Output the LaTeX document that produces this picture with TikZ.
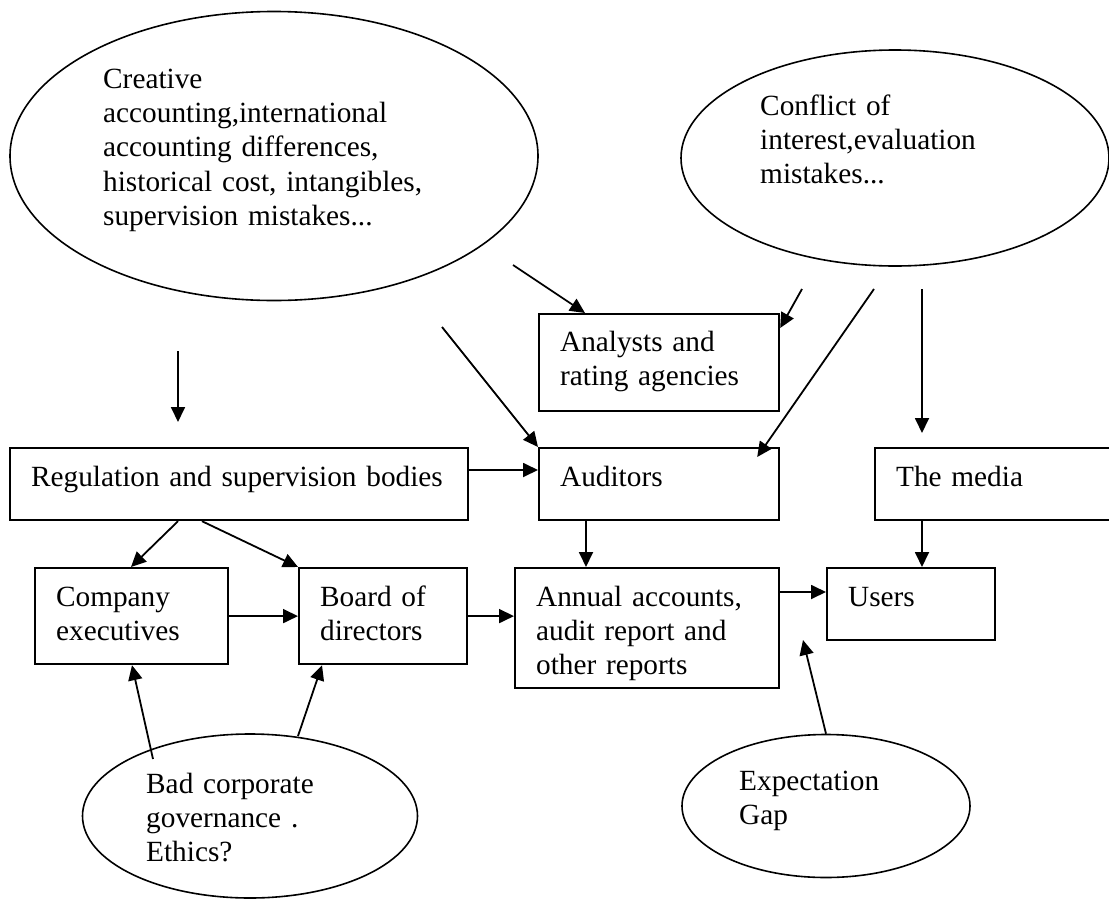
\documentclass[tikz,border=0pt]{standalone}
\usepackage{fontspec}
\setmainfont{Liberation Serif}
\usetikzlibrary{arrows.meta,shapes.geometric}
\tikzset{
  blk/.style={draw, rectangle, line width=2.2pt, align=left, inner xsep=21pt, inner ysep=0pt, text height=38pt, anchor=north west},
  oval/.style={draw, ellipse, line width=1.6pt, inner sep=0pt},
  lbl/.style={align=left, inner sep=0pt, text height=20pt, anchor=north west},
  arr/.style={-{Triangle[length=15pt,width=14pt]}, line width=1.8pt}
}
\begin{document}
\begin{tikzpicture}[x=1pt,y=-1pt,font=\fontsize{29.3}{34.3}\selectfont]
            \useasboundingbox (0,0) rectangle (1109,900);
            \node[oval, minimum width=528pt, minimum height=289pt] (cre) at (274,156){};
            \node[oval, minimum width=428pt, minimum height=216pt] (con) at (895,158){};
            \node[oval, minimum width=335pt, minimum height=164pt] (gov) at (250,816){};
            \node[oval, minimum width=288pt, minimum height=143pt] (gap) at (826,806){};
            \node[lbl, text width=340pt] (creT) at (103,68){Creative\\accounting,international\\accounting differences,\\historical cost, intangibles,\\supervision mistakes...};
            \node[lbl, text width=230pt] (conT) at (760,95){Conflict of\\interest,evaluation\\mistakes...};
            \node[lbl, text width=200pt] (govT) at (146,773){Bad corporate\\governance .\\Ethics?};
            \node[lbl, text width=160pt] (gapT) at (739,770){Expectation\\Gap};
            \node[blk, text width=198pt, text depth=60pt, text height=37pt] (ana) at (538,313){Analysts and\\rating agencies};
            \node[blk, text width=416pt, text depth=34pt] (reg) at (9,447){Regulation and supervision bodies};
            \node[blk, text width=198pt, text depth=34pt] (aud) at (538,447){Auditors};
            \node[blk, text width=198pt, text depth=34pt] (med) at (874,447){The media};
            \node[blk, text width=151pt, text depth=58pt] (com) at (34,567){Company\\executives};
            \node[blk, text width=126pt, text depth=58pt] (brd) at (298,567){Board of\\directors};
            \node[blk, text width=222pt, text depth=82pt] (ann) at (514,567){Annual accounts,\\audit report and\\other reports};
            \node[blk, text width=126pt, text depth=34pt] (usr) at (826,567){Users};
            \coordinate (c1) at (178,351);
            \coordinate (c2) at (513,265);
            \coordinate (c3) at (442,327);
            \coordinate (c4) at (802,289);
            \coordinate (c5) at (874,289);
            \coordinate (c6) at (922,289);
            \coordinate (g1) at (153,759);
            \coordinate (g2) at (298,736);
            \coordinate (e1) at (803,640);
            \draw[arr] (c1) -- ([xshift=169pt,yshift=25pt]reg.north west);
            \draw[arr] (c2) -- ([xshift=47pt]ana.north west);
            \draw[arr] (c3) -- (aud.north west);
            \draw[arr] (c4) -- ([yshift=-15pt]ana.north east);
            \draw[arr] (c5) -- ([xshift=-23pt,yshift=-10pt]aud.north east);
            \draw[arr] (c6) -- ([xshift=48pt,yshift=14pt]med.north west);
            \draw[arr] ([yshift=-23pt]reg.north east) -- ([yshift=-23pt]aud.north west);
            \draw[arr] ([xshift=169pt]reg.south west) -- ([xshift=97pt]com.north west);
            \draw[arr] ([xshift=193pt]reg.south west) -- (brd.north west);
            \draw[arr] (com.east) -- (brd.west);
            \draw[arr] (brd.east) -- (brd.east -| ann.west);
            \draw[arr] ([xshift=48pt]aud.south west) -- ([xshift=72pt]ann.north west);
            \draw[arr] ([xshift=48pt]med.south west) -- ([xshift=96pt]usr.north west);
            \draw[arr] ([yshift=-25pt]ann.north east) -- ([yshift=-25pt]usr.north west);
            \draw[arr] (g1) -- ([xshift=98pt]com.south west);
            \draw[arr] (g2) -- ([xshift=24pt]brd.south west);
            \draw[arr] (gap.north) -- (e1);
        \end{tikzpicture}
\end{document}
